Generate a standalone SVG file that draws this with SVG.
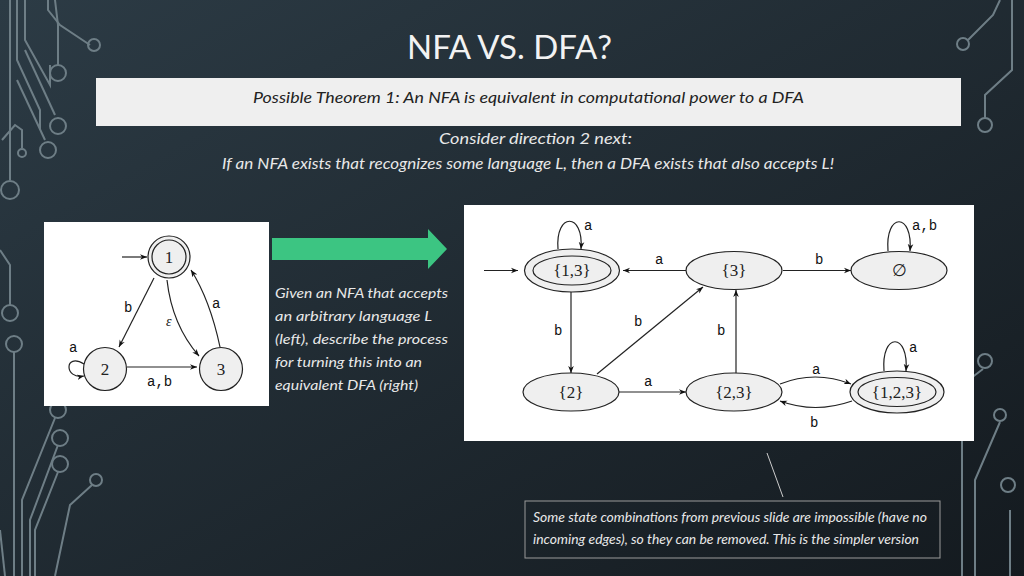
<svg xmlns="http://www.w3.org/2000/svg" width="1024" height="576" viewBox="0 0 1024 576">
<defs>
<linearGradient id="bg" x1="0" y1="0" x2="1" y2="1">
<stop offset="0" stop-color="#2c3b45"/><stop offset="1" stop-color="#141a1f"/>
</linearGradient>
<marker id="ah" viewBox="0 0 10 10" refX="10" refY="5" markerWidth="7" markerHeight="7" orient="auto" markerUnits="userSpaceOnUse"><path d="M0,1 L10,5 L0,9 L3,5 z" fill="#111"/></marker>
<style>
.dec{fill:none;stroke:#6e7e86;stroke-width:2}
.st{fill:#efefef;stroke:#222;stroke-width:1.2}
.ed{fill:none;stroke:#222;stroke-width:1.2;marker-end:url(#ah)}
.lb{font-family:"Liberation Mono",monospace;font-size:14px;fill:#111}
.nm{font-family:"Liberation Serif",serif;font-size:17px;fill:#222;text-anchor:middle}
.wt{font-family:"Lato","Open Sans",sans-serif;font-style:italic;fill:#e8e8e8}
</style>
</defs>
<rect width="1024" height="576" fill="url(#bg)"/>
<g id="decor" class="dec">
<path d="M10,0 V180"/><circle cx="10" cy="190" r="9"/>
<path d="M17,0 V60 L40,110 L40,130"/><path d="M25,0 V40 L50,85 V65"/>
<path d="M48,0 V10 L60,25 L90,45"/><circle cx="94" cy="45" r="6"/>
<path d="M55,0 L58,25 V65"/><circle cx="58" cy="73" r="8"/>
<path d="M25,50 L55,115"/><circle cx="58" cy="126" r="8"/>
<path d="M17,80 L45,140"/><circle cx="48" cy="150" r="8"/>
<path d="M2,140 L15,125 L22,130 V148"/><circle cx="22" cy="153" r="4"/>
<path d="M0,250 L10,265 V305"/><circle cx="10" cy="313" r="8"/>
<circle cx="14" cy="344" r="8"/><path d="M14,352 V576"/>
<path d="M55,418 L22,500 V576"/><circle cx="58" cy="410" r="8"/>
<path d="M58,445 L30,520 V576"/><circle cx="60" cy="438" r="8"/>
<path d="M58,472 L35,530 V576"/><circle cx="60" cy="464" r="8"/>
<path d="M0,530 L5,576"/><path d="M92,485 L70,505 L55,576"/><circle cx="96" cy="480" r="6"/>
<path d="M1000,0 L993,15 L968,40"/><circle cx="963" cy="44" r="6"/>
<path d="M1012,0 V70 L985,95 V118"/><circle cx="985" cy="125" r="7"/>
<path d="M983,369 L962,385 V576"/><circle cx="985" cy="361" r="7"/>
<path d="M1000,422 L975,480 V576"/><circle cx="1000" cy="415" r="6"/>
<path d="M1010,576 V510"/><circle cx="1008" cy="485" r="7"/>
</g>
<text x="407" y="59" textLength="205" lengthAdjust="spacingAndGlyphs" font-family="Lato,'Open Sans',sans-serif" font-size="32" fill="#f2f2f2">NFA VS. DFA?</text>
<rect x="96" y="78" width="865" height="48" fill="#efefef"/>
<text x="253" y="103" textLength="551" lengthAdjust="spacingAndGlyphs" class="wt" font-size="15.5" style="fill:#222">Possible Theorem 1: An NFA is equivalent in computational power to a DFA</text>
<text x="439" y="144" textLength="193" lengthAdjust="spacingAndGlyphs" class="wt" font-size="15">Consider direction 2 next:</text>
<text x="222" y="169" textLength="612" lengthAdjust="spacingAndGlyphs" class="wt" font-size="15">If an NFA exists that recognizes some language L, then a DFA exists that also accepts L!</text>
<path d="M272,238 H428 V229 L447,249 L428,269 V260 H272 Z" fill="#3cc582"/>
<g class="wt" font-size="13.5">
<text x="275" y="298" textLength="173" lengthAdjust="spacingAndGlyphs">Given an NFA that accepts</text>
<text x="275" y="321" textLength="157" lengthAdjust="spacingAndGlyphs">an arbitrary language L</text>
<text x="275" y="344" textLength="173" lengthAdjust="spacingAndGlyphs">(left), describe the process</text>
<text x="275" y="367" textLength="147" lengthAdjust="spacingAndGlyphs">for turning this into an</text>
<text x="275" y="390" textLength="143" lengthAdjust="spacingAndGlyphs">equivalent DFA (right)</text>
</g>
<path d="M767,453 L783,497" stroke="#ccc" stroke-width="1"/>
<rect x="525" y="501" width="415" height="57" fill="none" stroke="#9a9a9a" stroke-width="1"/>
<text x="533" y="522" textLength="394" lengthAdjust="spacingAndGlyphs" class="wt" font-size="12.5">Some state combinations from previous slide are impossible (have no</text>
<text x="533" y="544" textLength="386" lengthAdjust="spacingAndGlyphs" class="wt" font-size="12.5">incoming edges), so they can be removed. This is the simpler version</text>

<rect x="44" y="222" width="225" height="184" fill="#fff"/>
<g id="nfa1"><circle class="st" cx="169" cy="257" r="21"/><circle class="st" cx="169" cy="257" r="17"/><text class="nm" x="169" y="263">1</text></g>
<g id="nfa2"><circle class="st" cx="105" cy="369" r="21.5"/><text class="nm" x="105" y="375">2</text></g>
<g id="nfa3"><circle class="st" cx="221" cy="369" r="21.5"/><text class="nm" x="221" y="375">3</text></g>
<g id="nfa-edges">
<path class="ed" d="M122,257 H147"/>
<path class="ed" d="M154,278 L119,347"/>
<path class="ed" d="M167,280 Q172,325 199,356"/>
<path class="ed" d="M220,347 Q210,300 191,270"/>
<path class="ed" d="M127,367 H197"/>
<path class="ed" d="M84,364 C64,352 64,380 84,376"/>
<text class="lb" x="124" y="312" font-size="12">b</text>
<text x="166" y="326" font-family="Liberation Serif,serif" font-style="italic" font-size="14" fill="#111">ε</text>
<text class="lb" x="212" y="308" font-size="12">a</text>
<text class="lb" x="147" y="386" font-size="12">a,b</text>
<text class="lb" x="69" y="352" font-size="12">a</text>
</g>

<rect x="464" y="205" width="510" height="236" fill="#fff"/>
<g id="d13"><ellipse class="st" cx="572" cy="270.5" rx="47.5" ry="21.5"/><ellipse class="st" cx="572" cy="270.5" rx="39" ry="14.5"/><text class="nm" x="572" y="276">{1,3}</text></g>
<g id="d3"><ellipse class="st" cx="734" cy="270.5" rx="48" ry="19"/><text class="nm" x="734" y="276">{3}</text></g>
<g id="dempty"><ellipse class="st" cx="899" cy="270.5" rx="48" ry="19"/><text class="nm" x="899" y="276">∅</text></g>
<g id="d2"><ellipse class="st" cx="571" cy="392" rx="48" ry="19"/><text class="nm" x="571" y="398">{2}</text></g>
<g id="d23"><ellipse class="st" cx="734" cy="392" rx="48" ry="19"/><text class="nm" x="734" y="398">{2,3}</text></g>
<g id="d123"><ellipse class="st" cx="897" cy="392" rx="47" ry="21"/><ellipse class="st" cx="897" cy="392" rx="39" ry="14.5"/><text class="nm" x="897" y="398">{1,2,3}</text></g>
<g id="dfa-edges">
<path class="ed" d="M484,270.5 H518"/>
<path class="ed" d="M558,249 C555,212 584,212 581,249"/>
<path class="ed" d="M888,251 C885,212 913,212 910,251"/>
<path class="ed" d="M884,371 C881,332 909,332 906,371"/>
<path class="ed" d="M686,270.5 H623"/>
<path class="ed" d="M783,270.5 H851"/>
<path class="ed" d="M571,292 V373"/>
<path class="ed" d="M597,374 L703,287"/>
<path class="ed" d="M736,373 V290"/>
<path class="ed" d="M619,392 H686"/>
<path class="ed" d="M780,384 Q815,370 851,384"/>
<path class="ed" d="M852,401 Q815,414 780,401"/>
<text class="lb" x="584" y="230">a</text>
<text class="lb" x="912" y="230">a,b</text>
<text class="lb" x="909" y="352">a</text>
<text class="lb" x="655" y="264">a</text>
<text class="lb" x="815" y="264">b</text>
<text class="lb" x="554" y="335">b</text>
<text class="lb" x="634" y="326">b</text>
<text class="lb" x="717" y="335">b</text>
<text class="lb" x="644" y="386">a</text>
<text class="lb" x="812" y="374">a</text>
<text class="lb" x="810" y="427">b</text>
</g>
</svg>
